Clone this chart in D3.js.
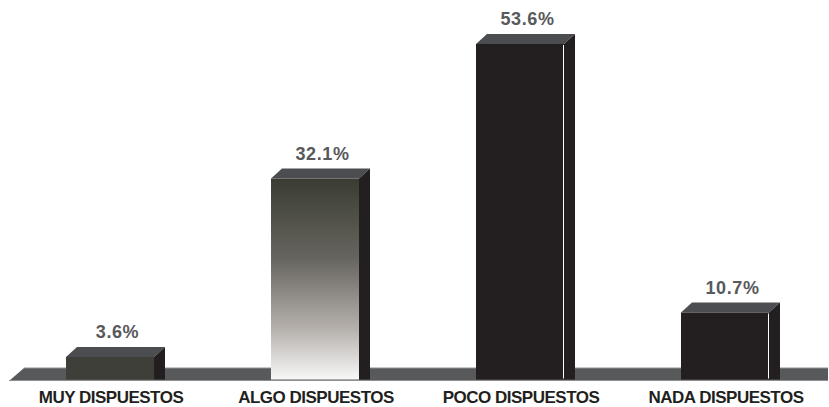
<!DOCTYPE html>
<html>
<head>
<meta charset="utf-8">
<script src="https://cdn.jsdelivr.net/npm/d3@7/dist/d3.min.js"></script>
<style>
  html, body { margin: 0; padding: 0; background: #ffffff; }
  svg { display: block; }
</style>
</head>
<body>
<script>
// Disposición a participar — porcentaje por categoría
const categories = ["MUY DISPUESTOS", "ALGO DISPUESTOS", "POCO DISPUESTOS", "NADA DISPUESTOS"];
const values = [3.6, 32.1, 53.6, 10.7];
const valueLabels = ["3.6%", "32.1%", "53.6%", "10.7%"];
const frontFills = ["#3e3f38", "url(#algoGrad)", "#231f20", "#231f20"];
const edgeHighlight = [false, false, true, true];

const W = 829, H = 407;
const baseline = 379.5;
const depthX = 11, depthY = 10;

const svg = d3.select("body").append("svg")
  .attr("width", W).attr("height", H);

const defs = svg.append("defs");
const grad = defs.append("linearGradient")
  .attr("id", "algoGrad").attr("x1", 0).attr("y1", 0).attr("x2", 0).attr("y2", 1);
[[0, "#3a3c33"], [0.4, "#67655f"], [0.75, "#b6b1ac"], [1, "#f8f8f8"]].forEach(([o, c]) =>
  grad.append("stop").attr("offset", o).attr("stop-color", c));

const x = d3.scaleBand()
  .domain(categories)
  .range([66, 769])
  .paddingInner(117 / 205)
  .paddingOuter(0);

const y = d3.scaleLinear()
  .domain([0, 60])
  .range([baseline, baseline - 60 * 6.26]);

// floor slab
const floor = svg.append("g");
floor.append("polygon")
  .attr("points", [[24, 368], [828, 368], [828, 381], [9, 381]].map(p => p.join(",")).join(" "))
  .attr("fill", "#58595b");
floor.append("line").attr("x1", 24).attr("x2", 828).attr("y1", 368).attr("y2", 368)
  .attr("stroke", "#8e8f91").attr("stroke-width", 1);
floor.append("line").attr("x1", 9).attr("x2", 828).attr("y1", 380.5).attr("y2", 380.5)
  .attr("stroke", "#8e8f91").attr("stroke-width", 1);

const data = categories.map((c, i) => ({
  cat: c, value: values[i], label: valueLabels[i], fill: frontFills[i], edge: edgeHighlight[i]
}));

const bars = svg.append("g").selectAll("g.bar").data(data).join("g").attr("class", "bar");

bars.each(function(d) {
  const g = d3.select(this);
  const x0 = x(d.cat), x1 = x0 + x.bandwidth();
  const yt = y(d.value);
  const pts = a => a.map(p => p.join(",")).join(" ");
  // top face
  g.append("polygon")
    .attr("points", pts([[x0, yt], [x0 + depthX, yt - depthY], [x1 + depthX, yt - depthY], [x1, yt]]))
    .attr("fill", "#4b4d50");
  // side face
  g.append("polygon")
    .attr("points", pts([[x1, yt], [x1 + depthX, yt - depthY], [x1 + depthX, baseline], [x1, baseline]]))
    .attr("fill", "#231f20");
  // front face
  g.append("rect")
    .attr("x", x0).attr("y", yt)
    .attr("width", x.bandwidth()).attr("height", baseline - yt)
    .attr("fill", d.fill);
  if (d.edge) {
    g.append("line")
      .attr("x1", x1 - 0.5).attr("x2", x1 - 0.5)
      .attr("y1", yt + 1).attr("y2", baseline - 1)
      .attr("stroke", "#ffffff").attr("stroke-width", 1);
  }
  // value label
  g.append("text")
    .attr("x", (x0 + x1 + depthX) / 2 + 2)
    .attr("y", yt - depthY - 9)
    .attr("text-anchor", "middle")
    .attr("font-family", "Liberation Sans, Arial, sans-serif")
    .attr("font-weight", "bold")
    .attr("font-size", 18)
    .attr("letter-spacing", 0.6)
    .attr("fill", "#58595b")
    .text(d.label);
});

// category labels
svg.append("g").selectAll("text").data(data).join("text")
  .attr("x", d => x(d.cat) + x.bandwidth() / 2 + 1)
  .attr("y", 403)
  .attr("text-anchor", "middle")
  .attr("font-family", "Liberation Sans, Arial, sans-serif")
  .attr("font-weight", "bold")
  .attr("font-size", 17)
  .attr("letter-spacing", -0.5)
  .attr("fill", "#231f20")
  .text(d => d.cat);
</script>
</body>
</html>
